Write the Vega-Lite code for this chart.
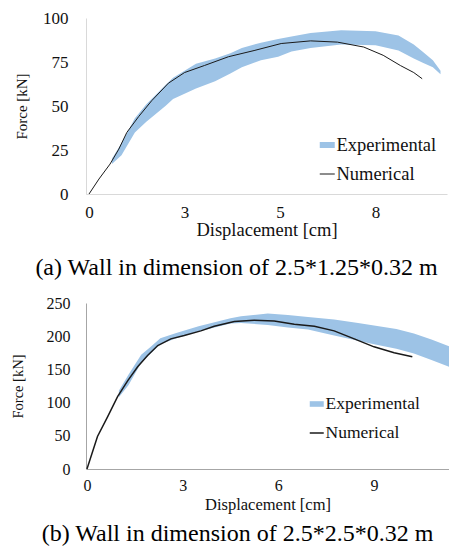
{
  "$schema": "https://vega.github.io/schema/vega-lite/v6.json",
  "background": "white",
  "padding": {"left": 10, "top": 9, "right": 0, "bottom": 0},
  "spacing": 15,
  "resolve": {"scale": {"fill": "independent", "stroke": "independent"}, "legend": {"fill": "independent", "stroke": "independent"}},
  "config": {
    "view": {"stroke": null},
    "axis": {"grid": false, "ticks": false, "labelFont": "Liberation Serif", "titleFont": "Liberation Serif", "labelColor": "#111111", "titleColor": "#111111", "titleFontWeight": "normal", "labelFlush": false, "labelOverlap": false},
    "legend": {"padding": 0, "labelColor": "#111111", "labelFont": "Liberation Serif", "labelOffset": 0, "rowPadding": 0}
  },
  "datasets": {
    "expA": [
      {"series": "Experimental", "d": 0.6, "lo": 17, "hi": 20},
      {"series": "Experimental", "d": 0.85, "lo": 22, "hi": 29},
      {"series": "Experimental", "d": 1.2, "lo": 35, "hi": 43},
      {"series": "Experimental", "d": 1.5, "lo": 41, "hi": 51},
      {"series": "Experimental", "d": 2.0, "lo": 50, "hi": 62},
      {"series": "Experimental", "d": 2.2, "lo": 54, "hi": 66},
      {"series": "Experimental", "d": 2.8, "lo": 60, "hi": 74},
      {"series": "Experimental", "d": 3.3, "lo": 64, "hi": 77},
      {"series": "Experimental", "d": 3.7, "lo": 68.5, "hi": 80},
      {"series": "Experimental", "d": 4.0, "lo": 72, "hi": 83},
      {"series": "Experimental", "d": 4.5, "lo": 76, "hi": 86},
      {"series": "Experimental", "d": 4.95, "lo": 78, "hi": 88},
      {"series": "Experimental", "d": 5.3, "lo": 81, "hi": 89.5},
      {"series": "Experimental", "d": 5.8, "lo": 83, "hi": 91.5},
      {"series": "Experimental", "d": 6.6, "lo": 85, "hi": 93},
      {"series": "Experimental", "d": 7.5, "lo": 84.5, "hi": 92.5},
      {"series": "Experimental", "d": 8.1, "lo": 81.5, "hi": 90},
      {"series": "Experimental", "d": 8.5, "lo": 77, "hi": 85},
      {"series": "Experimental", "d": 8.75, "lo": 74.5, "hi": 80.5},
      {"series": "Experimental", "d": 9.0, "lo": 72, "hi": 76},
      {"series": "Experimental", "d": 9.2, "lo": 68, "hi": 70}
    ],
    "numA": [
      {"kind": "Numerical", "d": 0, "f": 0},
      {"kind": "Numerical", "d": 0.26, "f": 8.5},
      {"kind": "Numerical", "d": 0.55, "f": 17},
      {"kind": "Numerical", "d": 0.78, "f": 25.5},
      {"kind": "Numerical", "d": 0.99, "f": 35},
      {"kind": "Numerical", "d": 1.3, "f": 44},
      {"kind": "Numerical", "d": 1.64, "f": 53},
      {"kind": "Numerical", "d": 2.08, "f": 63},
      {"kind": "Numerical", "d": 2.5, "f": 69},
      {"kind": "Numerical", "d": 3.02, "f": 73},
      {"kind": "Numerical", "d": 3.65, "f": 78},
      {"kind": "Numerical", "d": 4.32, "f": 81.5},
      {"kind": "Numerical", "d": 5.03, "f": 85.5},
      {"kind": "Numerical", "d": 5.8, "f": 87},
      {"kind": "Numerical", "d": 6.5, "f": 86.3},
      {"kind": "Numerical", "d": 7.19, "f": 83.5},
      {"kind": "Numerical", "d": 7.7, "f": 78.8},
      {"kind": "Numerical", "d": 8.15, "f": 73},
      {"kind": "Numerical", "d": 8.5, "f": 69},
      {"kind": "Numerical", "d": 8.72, "f": 65.5}
    ],
    "expB": [
      {"series": "Experimental", "d": 1.0, "lo": 108, "hi": 118},
      {"series": "Experimental", "d": 1.3, "lo": 126, "hi": 142},
      {"series": "Experimental", "d": 1.7, "lo": 160, "hi": 172},
      {"series": "Experimental", "d": 2.0, "lo": 174, "hi": 184},
      {"series": "Experimental", "d": 2.3, "lo": 188, "hi": 197},
      {"series": "Experimental", "d": 2.8, "lo": 197, "hi": 205},
      {"series": "Experimental", "d": 3.5, "lo": 207, "hi": 215},
      {"series": "Experimental", "d": 4.0, "lo": 213, "hi": 221},
      {"series": "Experimental", "d": 4.5, "lo": 219, "hi": 227},
      {"series": "Experimental", "d": 4.83, "lo": 220, "hi": 230},
      {"series": "Experimental", "d": 5.67, "lo": 217, "hi": 234},
      {"series": "Experimental", "d": 6.3, "lo": 213, "hi": 232},
      {"series": "Experimental", "d": 6.93, "lo": 210, "hi": 229},
      {"series": "Experimental", "d": 7.75, "lo": 201, "hi": 225},
      {"series": "Experimental", "d": 8.5, "lo": 193, "hi": 220},
      {"series": "Experimental", "d": 9.0, "lo": 188, "hi": 216},
      {"series": "Experimental", "d": 9.7, "lo": 181, "hi": 211},
      {"series": "Experimental", "d": 10.25, "lo": 174, "hi": 204},
      {"series": "Experimental", "d": 10.8, "lo": 164, "hi": 195},
      {"series": "Experimental", "d": 11.35, "lo": 154, "hi": 185}
    ],
    "numB": [
      {"kind": "Numerical", "d": 0, "f": 0},
      {"kind": "Numerical", "d": 0.33, "f": 49},
      {"kind": "Numerical", "d": 0.65, "f": 79},
      {"kind": "Numerical", "d": 0.96, "f": 109},
      {"kind": "Numerical", "d": 1.28, "f": 133},
      {"kind": "Numerical", "d": 1.59, "f": 154},
      {"kind": "Numerical", "d": 1.9, "f": 171},
      {"kind": "Numerical", "d": 2.22, "f": 186},
      {"kind": "Numerical", "d": 2.63, "f": 196},
      {"kind": "Numerical", "d": 3.05, "f": 201},
      {"kind": "Numerical", "d": 3.57, "f": 208},
      {"kind": "Numerical", "d": 3.99, "f": 215},
      {"kind": "Numerical", "d": 4.62, "f": 222},
      {"kind": "Numerical", "d": 5.24, "f": 224},
      {"kind": "Numerical", "d": 5.87, "f": 223},
      {"kind": "Numerical", "d": 6.5, "f": 218},
      {"kind": "Numerical", "d": 7.13, "f": 215},
      {"kind": "Numerical", "d": 7.75, "f": 208},
      {"kind": "Numerical", "d": 8.38, "f": 196},
      {"kind": "Numerical", "d": 9.0, "f": 184},
      {"kind": "Numerical", "d": 9.63, "f": 175},
      {"kind": "Numerical", "d": 10.2, "f": 169}
    ]
  },
  "vconcat": [
    {
      "width": 361,
      "height": 176,
      "title": {"text": "(a) Wall in dimension of 2.5*1.25*0.32 m", "orient": "bottom", "anchor": "middle", "frame": "group", "dx": -30, "offset": 17, "font": "Liberation Serif", "fontSize": 24, "fontWeight": "normal", "color": "#000000"},
      "layer": [
        {
          "data": {"name": "expA"},
          "mark": {"type": "area", "opacity": 1},
          "encoding": {
            "x": {"field": "d", "type": "quantitative", "scale": {"domain": [-0.079, 9.37], "nice": false, "zero": false},
              "axis": {"values": [0, 2.5, 5, 7.5], "format": ".0f", "title": "Displacement [cm]", "labelFontSize": 17, "titleFontSize": 18.5, "labelPadding": 10, "titlePadding": 0.5, "domainColor": "#d9d9d9", "labelOverlap": false}},
            "y": {"field": "lo", "type": "quantitative", "scale": {"domain": [0, 100], "nice": false},
              "axis": {"values": [0, 25, 50, 75, 100], "title": "Force [kN]", "titleFontSize": 15, "labelFontSize": 17, "labelPadding": 18, "titlePadding": 13, "domainColor": "#d9d9d9", "labelOverlap": false}},
            "y2": {"field": "hi"},
            "fill": {"field": "series", "type": "nominal", "scale": {"range": ["#9dc3e6"]},
              "legend": {"orient": "none", "legendX": 232, "legendY": 117.75, "title": null, "symbolType": "M-1,-0.4H1V0.4H-1Z", "symbolSize": 225, "symbolStrokeWidth": 0, "labelFontSize": 18.5}}
          }
        },
        {
          "data": {"name": "numA"},
          "mark": {"type": "line", "strokeWidth": 1},
          "encoding": {
            "x": {"field": "d", "type": "quantitative"},
            "y": {"field": "f", "type": "quantitative",
              "axis": {"values": [0, 25, 50, 75, 100], "title": "Force [kN]", "titleFontSize": 15, "labelFontSize": 17, "labelPadding": 18, "titlePadding": 13, "domainColor": "#d9d9d9", "labelOverlap": false}},
            "stroke": {"field": "kind", "type": "nominal", "scale": {"range": ["#1a1a1a"]},
              "legend": {"orient": "none", "legendX": 232, "legendY": 146.75, "title": null, "symbolType": "stroke", "symbolSize": 225, "symbolStrokeWidth": 1, "labelFontSize": 18.5}}
          }
        }
      ]
    },
    {
      "width": 363,
      "height": 166,
      "title": {"text": "(b) Wall in dimension of 2.5*2.5*0.32 m", "orient": "bottom", "anchor": "middle", "frame": "group", "dx": -30, "offset": 9, "font": "Liberation Serif", "fontSize": 24, "fontWeight": "normal", "color": "#000000"},
      "layer": [
        {
          "data": {"name": "expB"},
          "mark": {"type": "area", "opacity": 1},
          "encoding": {
            "x": {"field": "d", "type": "quantitative", "scale": {"domain": [-0.03, 11.35], "nice": false, "zero": false},
              "axis": {"values": [0, 3, 6, 9], "title": "Displacement [cm]", "labelFontSize": 16, "titleFontSize": 16.5, "labelPadding": 8.5, "titlePadding": 2.5, "domainColor": "#a6a6a6", "labelOverlap": false}},
            "y": {"field": "lo", "type": "quantitative", "scale": {"domain": [0, 250], "nice": false},
              "axis": {"values": [0, 50, 100, 150, 200, 250], "tickCount": 6, "title": "Force [kN]", "titleFontSize": 14.5, "labelFontSize": 16, "labelPadding": 16, "titlePadding": 21, "domainColor": "#a6a6a6", "labelOverlap": false}},
            "y2": {"field": "hi"},
            "fill": {"field": "series", "type": "nominal", "scale": {"range": ["#9dc3e6"]},
              "legend": {"orient": "none", "legendX": 222, "legendY": 92.25, "title": null, "symbolType": "M-1,-0.4H1V0.4H-1Z", "symbolSize": 196, "symbolStrokeWidth": 0, "labelFontSize": 17.5}}
          }
        },
        {
          "data": {"name": "numB"},
          "mark": {"type": "line", "strokeWidth": 1.5},
          "encoding": {
            "x": {"field": "d", "type": "quantitative"},
            "y": {"field": "f", "type": "quantitative",
              "axis": {"values": [0, 50, 100, 150, 200, 250], "tickCount": 6, "title": "Force [kN]", "titleFontSize": 14.5, "labelFontSize": 16, "labelPadding": 16, "titlePadding": 21, "domainColor": "#a6a6a6", "labelOverlap": false}},
            "stroke": {"field": "kind", "type": "nominal", "scale": {"range": ["#1a1a1a"]},
              "legend": {"orient": "none", "legendX": 222, "legendY": 121.25, "title": null, "symbolType": "stroke", "symbolSize": 196, "symbolStrokeWidth": 1.5, "labelFontSize": 17.5}}
          }
        }
      ]
    }
  ]
}
